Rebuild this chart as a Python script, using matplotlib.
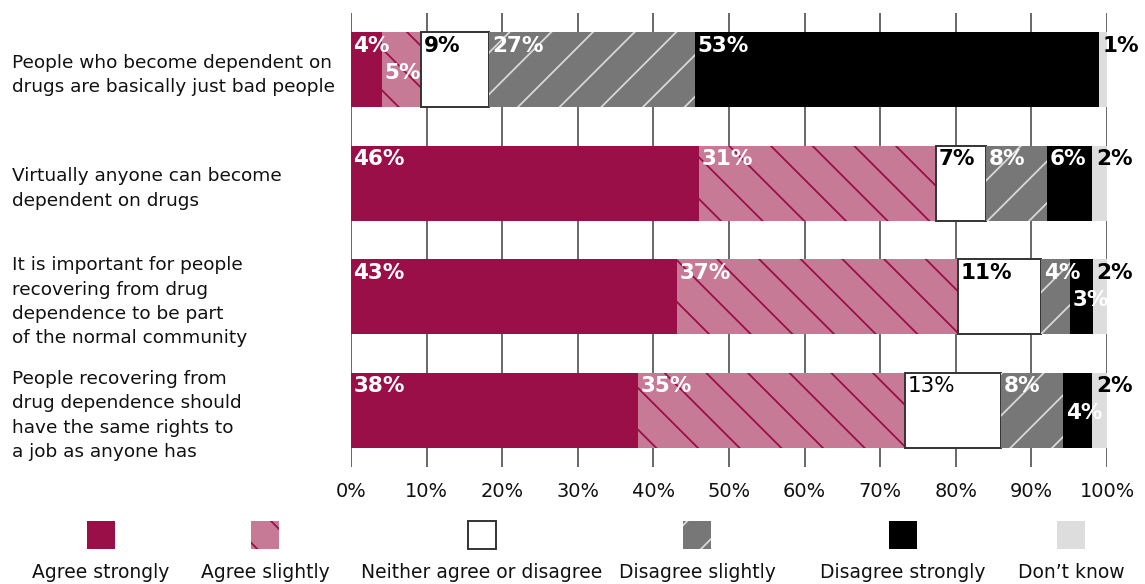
import matplotlib
matplotlib.use("Agg")
import matplotlib.pyplot as plt
from matplotlib.patches import Rectangle

DPI = 125
S = 100 / DPI  # point sizes below are tuned for 100 dpi; rescale for DPI

plt.rcParams["font.family"] = ["DejaVu Sans"]
plt.rcParams["hatch.linewidth"] = 1.3 * S

statements = [
    "People who become dependent on\ndrugs are basically just bad people",
    "Virtually anyone can become\ndependent on drugs",
    "It is important for people\nrecovering from drug\ndependence to be part\nof the normal community",
    "People recovering from\ndrug dependence should\nhave the same rights to\na job as anyone has",
]
categories = ["Agree strongly", "Agree slightly", "Neither agree or disagree",
              "Disagree slightly", "Disagree strongly", "Don\u2019t know"]

# share of respondents (%) per statement, one list per response category
agree_strongly = [4.1, 46.0, 43.1, 38.0]
agree_slightly = [5.2, 31.4, 37.2, 35.3]
neither = [9.0, 6.6, 11.0, 12.7]
disagree_slightly = [27.2, 8.1, 3.8, 8.2]
disagree_strongly = [53.4, 5.9, 3.0, 3.8]
dont_know = [1.1, 2.0, 1.9, 2.0]
series = [agree_strongly, agree_slightly, neither,
          disagree_slightly, disagree_strongly, dont_know]

tick_values = [0, 10, 20, 30, 40, 50, 60, 70, 80, 90, 100]

fills = ["#9B0F48", "#C77A96", "#FFFFFF", "#777777", "#000000", "#DDDDDD"]
edges = ["#9B0F48", "#9B0F48", "#333333", "#D8D8D8", "#000000", "#DDDDDD"]
widths = [0, 0, 1.4, 0, 0, 0]
hatches = [None, "\\", None, "/", None, None]
label_colors = ["white", "white", "black", "white", "white", "black"]
# labels that sit on a second line inside their bar
lowered = {(0, 1), (2, 4), (3, 4)}
# label drawn in regular weight
regular = {(3, 2)}

W, H = 1145, 584
fig = plt.figure(figsize=(W / DPI, H / DPI), dpi=DPI)
ax = fig.add_axes([351 / W, 1 - 467 / H, 756 / W, 454 / H])

rows = list(range(len(statements)))
left = [0.0] * len(rows)
for k, vals in enumerate(series):
    bars = ax.barh(rows, vals, left=left, height=0.66, color=fills[k],
                   edgecolor=edges[k], linewidth=widths[k] * S, hatch=hatches[k],
                   zorder=3)
    for i, (b, v) in enumerate(zip(bars, vals)):
        dy = -22 if (i, k) in lowered else -2.5
        ax.annotate(f"{round(v)}%", xy=(b.get_x(), b.get_y()),
                    xytext=((1.8 if k < 5 else 2.8) * S, dy * S),
                    textcoords="offset points",
                    ha="left", va="top", fontsize=15.5 * S,
                    fontweight="normal" if (i, k) in regular else "bold",
                    color=label_colors[k], zorder=5)
    left = [l + v for l, v in zip(left, vals)]

ax.set_xlim(0, 100)
ax.set_ylim(3.5, -0.5)
ax.set_xticks(tick_values)
ax.set_xticklabels([f"{t}%" for t in tick_values])
ax.tick_params(axis="x", length=0, pad=11 * S, labelsize=14 * S, colors="#111111")
ax.set_yticks(rows)
ax.set_yticklabels(statements, ha="left", fontsize=13.3 * S, linespacing=1.45,
                   color="#111111")
ax.tick_params(axis="y", length=0, pad=339 * 72 / DPI)
for s in ax.spines.values():
    s.set_visible(False)
for t in tick_values:
    ax.axvline(t, color="#404040", linewidth=1.1 * S, zorder=1)

# legend row: swatch above each category name
lax = fig.add_axes([0, 0, 1, 1], facecolor="none")
lax.set_xlim(0, W)
lax.set_ylim(H, 0)
lax.axis("off")
centers = [101, 265, 482, 697, 903, 1071]
for k, (cx, name) in enumerate(zip(centers, categories)):
    lax.add_patch(Rectangle((cx - 14, 521), 28, 28, facecolor=fills[k],
                            edgecolor=edges[k],
                            linewidth=(1.4 if k == 2 else 0) * S,
                            hatch=hatches[k]))
    lax.text(cx, 573, name, ha="center", va="center", fontsize=13.5 * S,
             color="#111111")

fig.savefig("out.png", dpi=DPI)
